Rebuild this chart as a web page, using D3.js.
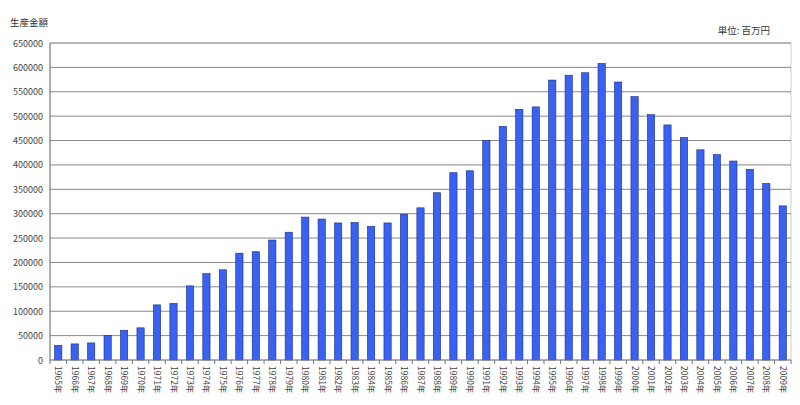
<!DOCTYPE html>
<html><head><meta charset="utf-8">
<script src="https://cdn.jsdelivr.net/npm/d3@7"></script>
<style>body{margin:0;background:#fff}text{font-family:"Noto Sans CJK JP",sans-serif}</style>
</head><body><svg id="c" width="800" height="405"></svg>
<script>
const years = d3.range(1965, 2010).map(y => y + '年');
const values = [30000, 33000, 35000, 50000, 61000, 66000, 113000, 116000, 152000, 177000,
  185000, 219000, 222000, 246000, 262000, 293000, 289000, 281000, 282000, 274000,
  281000, 299000, 312000, 343000, 384000, 388000, 450000, 479000, 514000, 519000,
  574000, 584000, 589000, 608000, 570000, 540000, 503000, 482000, 456000, 431000,
  421000, 408000, 391000, 362000, 316000];
const yTicks = d3.range(0, 650001, 50000);

const svg = d3.select('#c');
const plotLeft = 50, plotRight = 791, plotTop = 43, plotBottom = 360;

const x = d3.scaleBand().domain(years).range([plotLeft, plotRight]).paddingInner(0.56).paddingOuter(0.28);
const y = d3.scaleLinear().domain([0, 650000]).range([plotBottom, plotTop]);

svg.append('rect').attr('x', plotLeft).attr('y', plotTop).attr('width', plotRight - plotLeft).attr('height', plotBottom - plotTop)
  .attr('fill', 'none').attr('stroke', '#ccc');

svg.append('g').selectAll('line').data(yTicks.slice(1)).enter().append('line')
  .attr('x1', plotLeft).attr('x2', plotRight).attr('y1', d => y(d)).attr('y2', d => y(d))
  .attr('stroke', '#888').attr('stroke-width', 1);

svg.append('g').selectAll('text').data(yTicks).enter().append('text')
  .attr('x', 43).attr('y', d => y(d) + 3.5).attr('text-anchor', 'end')
  .attr('font-size', 9).attr('fill', '#444').text(d => d);

svg.append('g').selectAll('rect').data(values).enter().append('rect')
  .attr('x', (d, i) => x(years[i])).attr('width', x.bandwidth())
  .attr('y', d => y(d)).attr('height', d => plotBottom - y(d))
  .attr('fill', '#3a62f2').attr('stroke', '#1a2a80').attr('stroke-width', 0.6);

// axis lines
svg.append('line').attr('x1', plotLeft).attr('x2', plotLeft).attr('y1', plotTop).attr('y2', plotBottom).attr('stroke', '#777');
svg.append('line').attr('x1', plotLeft).attr('x2', plotRight).attr('y1', plotBottom).attr('y2', plotBottom).attr('stroke', '#777');
const step = x.step();
svg.append('g').selectAll('line').data(d3.range(years.length + 1)).enter().append('line')
  .attr('x1', i => plotLeft + i * step).attr('x2', i => plotLeft + i * step)
  .attr('y1', plotBottom).attr('y2', plotBottom + 4).attr('stroke', '#777');

svg.append('g').selectAll('text').data(years).enter().append('text')
  .attr('transform', d => `translate(${x(d) + x.bandwidth() / 2 - 3},${plotBottom + 6}) rotate(90)`)
  .attr('font-size', 8.5).attr('fill', '#444').text(d => d);

svg.append('text').attr('x', 10).attr('y', 26).attr('font-size', 9.5).attr('fill', '#333').text('生産金額');
svg.append('text').attr('x', 770).attr('y', 34).attr('text-anchor', 'end').attr('font-size', 9.5).attr('fill', '#333').text('単位: 百万円');
</script></body></html>
